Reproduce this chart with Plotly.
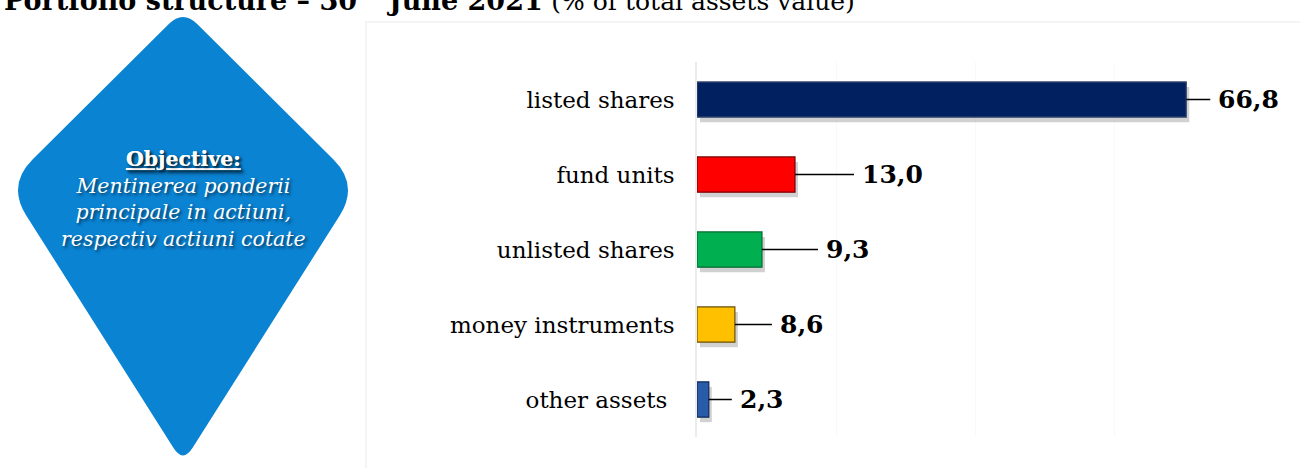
import math
import plotly.graph_objects as go

# ---- data ----
categories = ["listed shares", "fund units", "unlisted shares", "money instruments", "other assets"]
tick_labels = ["listed shares", "fund units", "unlisted shares", "money instruments", "other assets\u00a0"]
bar_values = [70.4, 14.1, 9.35, 5.45, 1.7]          # bar lengths as drawn
value_labels = ["66,8", "13,0", "9,3", "8,6", "2,3"]  # printed labels
bar_colors = ["#002060", "#FF0000", "#00B050", "#FFC000", "#2A5BA8"]
edge_colors = ["#3c4a6e", "#7a0000", "#006b30", "#6b5000", "#0d2a5a"]
label_offsets_px = [30, 65, 62, 43, 29]

objective_title = "Objective:"
objective_lines = ["Mentinerea ponderii", "principale in actiuni,", "respectiv actiuni cotate"]
title_bold = "Portfolio structure – 30<sup>th</sup> June 2021"
title_rest = "(% of total assets value)"

W, H = 1300, 468
ML, MR, MT, MB = 697, 47, 62, 31
XMAX = 80
PW, PH = W - ML - MR, H - MT - MB

def px2paper(px, py):
    return (px - ML) / PW, (H - MB - py) / PH

fig = go.Figure()

# shadow layer on the base axes (drawn underneath)
fig.add_trace(go.Bar(
    y=categories, x=bar_values, orientation="h",
    marker=dict(color="rgba(0,0,0,0.18)", line=dict(width=0)),
    hoverinfo="skip", showlegend=False,
))
# main bars on the overlaying axes (drawn on top)
fig.add_trace(go.Bar(
    y=categories, x=bar_values, orientation="h",
    marker=dict(color=bar_colors, line=dict(color=edge_colors, width=1.2)),
    xaxis="x2", yaxis="y2", showlegend=False,
))

# rounded kite shape
pts = [(183, 10), (359, 185), (183, 463), (7, 185)]
radii = [20, 36, 18, 36]

def rounded_path(points, rs):
    n = len(points)
    d = ""
    for i in range(n):
        p0, p1, p2 = points[i - 1], points[i], points[(i + 1) % n]
        r = rs[i]
        def toward(a, b, dd):
            dx, dy = b[0] - a[0], b[1] - a[1]
            L = math.hypot(dx, dy)
            return (a[0] + dx * dd / L, a[1] + dy * dd / L)
        a = px2paper(*toward(p1, p0, r))
        c = px2paper(*p1)
        b = px2paper(*toward(p1, p2, r))
        d += ("M" if i == 0 else "L") + f"{a[0]},{a[1]} Q{c[0]},{c[1]} {b[0]},{b[1]} "
    return d + "Z"

shapes = [
    dict(type="rect", xref="paper", yref="paper",
         x0=px2paper(366, 0)[0], x1=px2paper(1305, 0)[0],
         y0=px2paper(0, 475)[1], y1=px2paper(0, 22)[1],
         line=dict(color="#f1f1f1", width=1.5), fillcolor="rgba(0,0,0,0)", layer="below"),
    dict(type="path", xref="paper", yref="paper", path=rounded_path(pts, radii),
         fillcolor="#0A83D3", line=dict(width=0), layer="above"),
]

annotations = []
for cat, v, lab, off in zip(categories, bar_values, value_labels, label_offsets_px):
    annotations.append(dict(
        x=v, y=cat, xref="x2", yref="y2", text=f"<b>{lab}</b>",
        showarrow=True, arrowhead=0, arrowwidth=1.6, arrowcolor="#000000",
        ax=off, ay=0, xanchor="left", startstandoff=6, standoff=0,
        font=dict(family="DejaVu Serif", size=25, color="#000000"),
    ))

cx, cy = px2paper(183, 199)
txt = f"<b><u>{objective_title}</u></b><br>" + "<br>".join(f"<i>{l}</i>" for l in objective_lines)
annotations.append(dict(
    x=cx, y=cy, xref="paper", yref="paper", text=txt, showarrow=False,
    xanchor="center", yanchor="middle", align="center",
    font=dict(family="DejaVu Serif", size=20.5, color="#ffffff",
              shadow="2px 2px 3px rgba(0,0,0,0.55)"),
))

common_y = dict(categoryorder="array", categoryarray=categories, autorange="reversed")

fig.update_layout(
    width=W, height=H,
    margin=dict(l=ML, r=MR, t=MT, b=MB),
    paper_bgcolor="#ffffff", plot_bgcolor="#ffffff",
    barmode="overlay", bargap=0.53,
    title=dict(
        text=f"<b>{title_bold}</b> <span style='font-size:25px'>{title_rest}</span>",
        x=0.003, xanchor="left", xref="container",
        y=0.999, yanchor="middle", yref="container",
        font=dict(family="DejaVu Serif", size=27, color="#000000"),
    ),
    xaxis=dict(range=[-3 * XMAX / PW, XMAX - 3 * XMAX / PW], showticklabels=False,
               showgrid=False, zeroline=False, showline=False, fixedrange=True),
    yaxis=dict(range=[4.5 - 5 * 5 / PH, -0.5 - 5 * 5 / PH], visible=False,
               categoryorder="array", categoryarray=categories),
    xaxis2=dict(range=[0, XMAX], overlaying="x", showticklabels=False, showgrid=True,
                dtick=20, gridcolor="#f9f9f9", zeroline=False, showline=False),
    yaxis2=dict(**common_y, overlaying="y", side="left",
                tickmode="array", tickvals=categories, ticktext=tick_labels,
                showgrid=False, showline=True, linecolor="#ececec", linewidth=1.5,
                ticks="", ticklabelstandoff=16,
                tickfont=dict(family="DejaVu Serif", size=23, color="#000000")),
    shapes=shapes,
    annotations=annotations,
    font=dict(family="DejaVu Serif"),
)

fig.write_html("out.html", config={"displayModeBar": False},
               post_script="document.body.style.margin='0';document.body.style.overflow='hidden';")
